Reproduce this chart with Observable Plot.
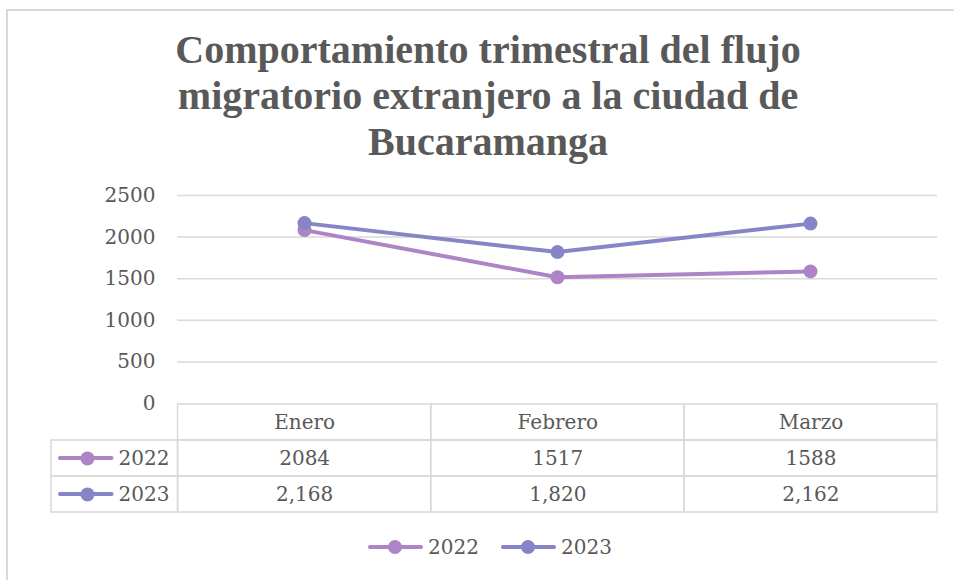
<!DOCTYPE html>
<html><head><meta charset="utf-8">
<script src="https://cdn.jsdelivr.net/npm/d3@7"></script>
<script src="https://cdn.jsdelivr.net/npm/@observablehq/plot@0.6"></script>
<style>
body{margin:0;background:#fff;width:954px;height:580px;overflow:hidden;position:relative;font-family:"DejaVu Serif",serif;color:#595959}
#frame{position:absolute;left:6px;top:9px;width:1000px;height:600px;border-left:2px solid #d9d9d9;border-top:2px solid #d9d9d9}
#title{position:absolute;left:0;top:27px;width:976px;text-align:center;font:bold 40px/46px "Liberation Serif",serif;color:#595959}
#chart{position:absolute;left:0;top:175px}
#table{position:absolute;left:0;top:400px}
#legend{position:absolute;left:0;top:533px;width:980px;height:28px;display:flex;justify-content:center;align-items:center;font:20px "DejaVu Serif",serif;color:#595959}
.item{display:flex;align-items:center;margin:0 11px}
.sw{position:relative;width:55px;height:14px;margin-right:5px}
.sw .ln{position:absolute;left:0;top:5px;width:55px;height:4px;border-radius:2px}
.sw .dt{position:absolute;left:20px;top:0;width:14px;height:14px;border-radius:50%}
</style></head>
<body>
<div id="frame"></div>
<div id="title">Comportamiento trimestral del flujo<br>migratorio extranjero a la ciudad de<br>Bucaramanga</div>
<div id="chart"></div>
<div id="table"></div>
<div id="legend"></div>
<script>
const months = ["Enero", "Febrero", "Marzo"];
const series = ["2022", "2023"];
const values2022 = [2084, 1517, 1588];
const values2023 = [2168, 1820, 2162];
const labels2022 = ["2084", "1517", "1588"];
const labels2023 = ["2,168", "1,820", "2,162"];
const yTicks = [0, 500, 1000, 1500, 2000, 2500];
const colors = ["#AD84C6", "#8784C7"];

const valuesBySeries = {"2022": values2022, "2023": values2023};
const labelsBySeries = {"2022": labels2022, "2023": labels2023};
const data = series.flatMap(s => months.map((m, i) => ({series: s, month: m, value: valuesBySeries[s][i]})));

const grid = "#d9d9d9";
const txt = "#595959";

const chart = Plot.plot({
  width: 954, height: 240,
  marginTop: 20, marginBottom: 12, marginLeft: 177, marginRight: 17,
  x: {type: "point", domain: months, padding: 0.5, axis: null},
  y: {domain: [0, 2500], axis: null},
  color: {domain: series, range: colors},
  style: {fontFamily: "DejaVu Serif", fontSize: "20px", color: txt, background: "transparent", overflow: "visible"},
  marks: [
    Plot.ruleY(yTicks.filter(d => d > 0), {stroke: grid, strokeWidth: 1.5}),
    Plot.axisY(yTicks, {tickSize: 0, tickPadding: 22, fill: txt, fontSize: 20, tickFormat: d => String(d), label: null}),
    Plot.line(data, {x: "month", y: "value", z: "series", stroke: "series", strokeWidth: 4}),
    Plot.dot(data, {x: "month", y: "value", fill: "series", r: 7})
  ]
});
document.getElementById("chart").append(chart);

// data table below the chart
const rows = ["header", ...series];
const headerCells = months.map((m, i) => ({row: "header", x1: i, x2: i + 1, label: m}));
const bodyCells = series.flatMap(s => months.map((m, i) => ({row: s, x1: i, x2: i + 1, label: labelsBySeries[s][i]})));
const labelCells = series.map((s, k) => ({row: s, x1: -0.5, x2: 0, label: s, color: colors[k]}));

const table = Plot.plot({
  width: 954, height: 115,
  marginTop: 3, marginBottom: 3, marginLeft: 51, marginRight: 17,
  x: {type: "linear", domain: [-0.5, 3], axis: null},
  y: {type: "band", domain: rows, padding: 0, axis: null},
  style: {fontFamily: "DejaVu Serif", fontSize: "20px", color: txt, background: "transparent", overflow: "visible"},
  marks: [
    Plot.barX([...headerCells, ...bodyCells, ...labelCells], {x1: "x1", x2: "x2", y: "row", fill: "none", stroke: grid, strokeWidth: 1.5, inset: 0}),
    Plot.text([...headerCells, ...bodyCells], {x: d => (d.x1 + d.x2) / 2, y: "row", text: "label", fill: txt, fontSize: 20}),
    Plot.barX(labelCells, {x1: "x1", x2: "x2", y: "row", fill: "color", insetLeft: 7, insetRight: 64, insetTop: 16, insetBottom: 16, rx: 2}),
    Plot.dot(labelCells, {x: "x1", y: "row", fill: "color", r: 7, dx: 36}),
    Plot.text(labelCells, {x: "x1", y: "row", text: "label", dx: 67, textAnchor: "start", fill: txt, fontSize: 20})
  ]
});
document.getElementById("table").append(table);

// legend
const legend = document.getElementById("legend");
series.forEach((s, k) => {
  const item = document.createElement("div");
  item.className = "item";
  item.innerHTML = `<div class="sw"><div class="ln" style="background:${colors[k]}"></div><div class="dt" style="background:${colors[k]}"></div></div><span>${s}</span>`;
  legend.append(item);
});
</script>
</body></html>
